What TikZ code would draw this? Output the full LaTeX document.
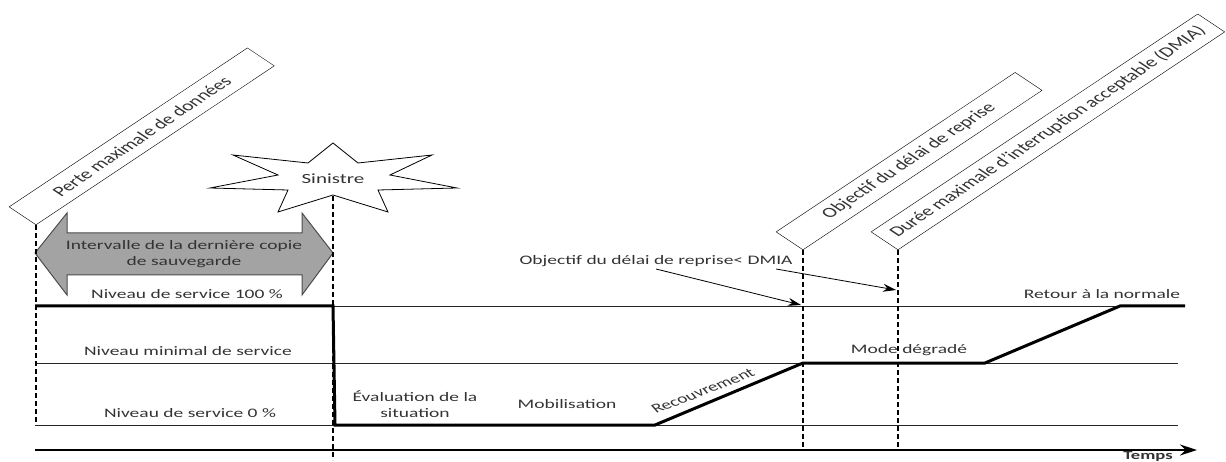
\documentclass[tikz,border=0pt]{standalone}
\usepackage{fontspec}
\setmainfont{Carlito}
\usepackage{tikz}
\usetikzlibrary{arrows, arrows.meta, positioning}
\definecolor{txtgray}{HTML}{333333}
\definecolor{bargray}{HTML}{A3A3A3}
\tikzstyle{arrow}     = [line width=0.8pt,-{Stealth[length=13pt,width=8pt]}]
\tikzset{every node/.style={align=center, yscale=0.667, text=txtgray}}

\begin{document}
\begin{tikzpicture}[x=1pt, y=-1pt,
    lbl/.style={font=\fontsize{19.5}{23}\selectfont},
    tag/.style={rectangle, draw, fill=white, rotate=45, anchor=south west,
                minimum height=38pt, inner sep=0pt, font=\fontsize{21.5}{24}\selectfont},
    level/.style={line width=0.8pt, black!85},
    service/.style={line width=3pt, line join=miter},
    marker/.style={line width=2pt, dash pattern=on 5pt off 3pt}
]
  \useasboundingbox (0,0) rectangle (1226,462);

  % --- levels and time axis ---
  \coordinate (full) at (35,306);
  \coordinate (minl) at (35,363);
  \coordinate (zero) at (35,425);
  \coordinate (axis) at (35,449);
  \coordinate (foot) at (35,460);
  \draw[level] (full) -- (1185,306);
  \draw[level] (minl) -- (1178,363);
  \draw[level] (zero) -- (1178,425);
  \draw[line width=1.2pt, -{Stealth[length=17pt,width=11pt]}] (35,450) -- (1197,450);
  \node[font=\fontsize{18.6}{20}\selectfont\bfseries] (temps) at (1148,456) {Temps};

  % --- backup interval ---
  \draw[fill=bargray, draw=black!70, line width=1pt]
    (35,253) -- (67,213) -- (67,233) -- (302,233) -- (302,213) -- (333,253)
    -- (302,295) -- (302,275) -- (67,275) -- (67,295) -- cycle;
  \node[lbl] (copie) at (184,254) {Intervalle de la dernière copie\\de sauvegarde};

  \node[lbl] (n100) at (187,294) {Niveau de service 100 \%};
  \node[lbl] (nmin) at (188,351) {Niveau minimal de service};
  \node[lbl] (n0)   at (190,413) {Niveau de service 0 \%};

  % --- service curve ---
  \draw[service] (35,306) -- (333,306) -- (335,425) -- (655,425) -- (803,363)
    -- (985,363) -- (1120,306) -- (1185,306);
  \node[lbl] (eval)    at (415,404) {Évaluation de la\\situation};
  \node[lbl] (mobil)   at (567,404) {Mobilisation};
  \node[lbl, rotate=30] (recouv) at (703,391) {Recouvrement};
  \node[lbl] (degrade) at (909,350) {Mode dégradé};
  \node[lbl] (retour)  at (1102,294) {Retour à la normale};

  % --- incident ---
  \draw[fill=white, line width=0.8pt]
    (333,143) -- (358,163) -- (432,155) -- (390,175) -- (457,188) -- (378,190)
    -- (388,212) -- (333,195) -- (278,212) -- (288,190) -- (210,188) -- (278,175)
    -- (233,155) -- (308,163) -- cycle;
  \node[font=\fontsize{21}{24}\selectfont] (sinistre) at (333,179) {Sinistre};
  \coordinate (sinfoot) at (333,196);

  % --- tags ---
  \node[tag, minimum width=337pt] (perte) at (36,225)  {Perte maximale de données};
  \node[tag, minimum width=338pt] (odr)   at (803,250) {Objectif du délai de reprise};
  \node[tag, minimum width=462pt] (dmia)  at (898,250) {Durée maximale d’interruption acceptable (DMIA)};

  \draw[marker] (perte.south west) -- (perte.south west |- zero);
  \draw[marker] (sinfoot) -- (sinfoot |- foot);
  \draw[marker] (odr.south west) -- (odr.south west |- axis);
  \draw[marker] (dmia.south west) -- (dmia.south west |- axis);

  % --- objective vs DMIA ---
  \node[lbl] (cible) at (656,261) {Objectif du délai de reprise< DMIA};
  \coordinate (odrhit)  at (801,305);
  \coordinate (dmiahit) at (896,290);
  \draw[arrow] (cible.south) -- (odrhit);
  \draw[arrow] ([xshift=-20pt]cible.south east) -- (dmiahit);
\end{tikzpicture}
\end{document}
